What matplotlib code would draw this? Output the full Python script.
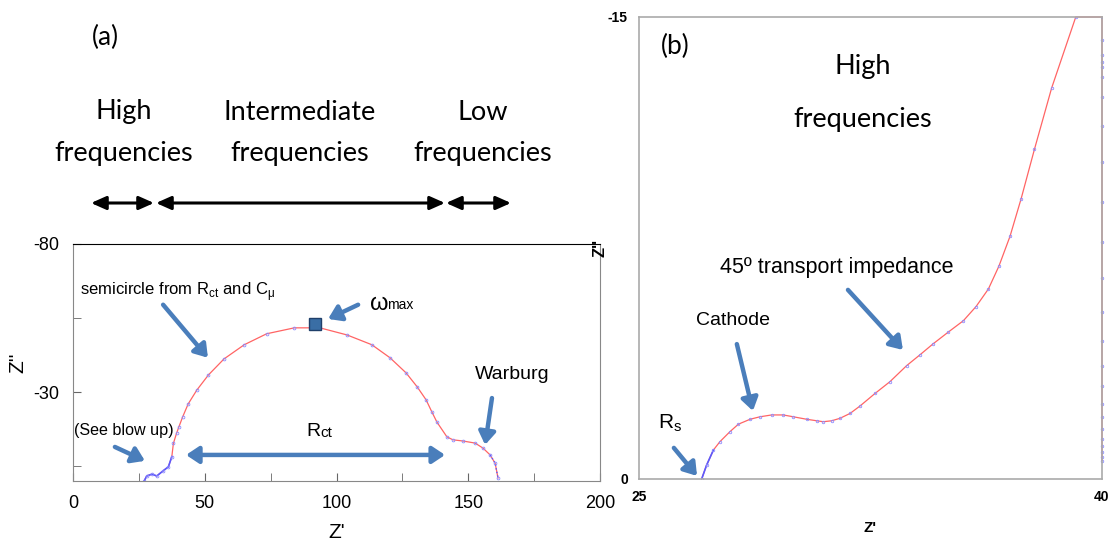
import matplotlib
matplotlib.use("Agg")
import matplotlib.pyplot as plt

plt.rcParams['axes.unicode_minus'] = False

# (a) full spectrum, Z' vs Z''
left_x = [27.0, 28.0, 29.9, 31.8, 34.3, 36.2, 37.5, 38.1, 39.3, 40.2, 41.6, 43.7, 47.0,
          51.4, 57.3, 65.0, 73.5, 84.0, 93.7, 104.0, 113.4, 120.3, 126.4, 130.6, 134.0,
          136.2, 138.1, 141.9, 144.2, 148.0, 152.6, 155.6, 158.3, 160.2, 161.3]
left_y = [0, -1.7, -2.3, -1.7, -3.5, -4.8, -8.2, -12.7, -16.1, -18.3, -21.6, -26.0, -30.7,
          -35.8, -41.2, -46.0, -49.7, -51.7, -51.7, -49.3, -46.0, -41.6, -36.5, -31.8, -27.4,
          -23.3, -19.9, -14.9, -13.9, -13.5, -12.8, -11.1, -8.8, -6.0, -1.0]
w_max = (91.8, -53.0)

# (b) blow up of the high frequency part
right_x = [27.03, 27.19, 27.41, 27.62, 27.95, 28.22, 28.60, 28.92, 29.30, 29.67, 30.00,
           30.43, 30.76, 30.97, 31.24, 31.51, 31.84, 32.16, 32.65, 33.13, 33.67, 34.10,
           34.53, 35.02, 35.51, 35.92, 36.32, 36.66, 37.02, 37.38, 37.81, 38.37, 39.15, 40.0]
right_y = [0, -0.45, -0.94, -1.21, -1.54, -1.78, -1.94, -2.02, -2.08, -2.08, -2.02,
           -1.94, -1.89, -1.86, -1.89, -1.97, -2.13, -2.37, -2.78, -3.16, -3.68, -4.03,
           -4.39, -4.77, -5.14, -5.60, -6.17, -6.91, -7.88, -9.10, -10.70, -12.70, -15.0, -15.0]
# points clipped to the right border
edge_y = [-14.24, -13.78, -13.55, -13.38, -13.04, -12.41, -11.46, -10.28, -8.99, -7.70,
          -6.51, -5.42, -4.48, -3.68, -3.02, -2.45, -2.00, -1.61, -1.31, -1.08, -0.89,
          -0.72, -0.60]

W, H = 1116, 551
RED = '#ff6464'
BLUE = '#5a5aff'
DOT = '#8c8cff'
ARROW = '#4a7ebb'
CAL = ['Lato', 'DejaVu Sans']
HEL = ['Liberation Sans', 'DejaVu Sans']


def px(x, y):
    return x / W, 1 - y / H


fig = plt.figure(figsize=(W / 100, H / 100), dpi=100)

# ---------- (a) ----------
ax = fig.add_axes([73 / W, 1 - 481 / H, 527 / W, 237 / H])
ax.plot(left_x, left_y, color=RED, lw=0.9)
ax.plot(left_x[:7], left_y[:7], color=BLUE, lw=1.2)
ax.plot(left_x[-3:], left_y[-3:], color=BLUE, lw=1.0, ls=':')
ax.plot(left_x, left_y, 'o', ms=2, mfc='none', mec=DOT, mew=0.6)
ax.plot(*w_max, 's', ms=8, color='#3a6ea5', mec='#1f3f6a', mew=1)
ax.set_xlim(0, 200)
ax.set_ylim(0, -80)
ax.set_xticks([0, 50, 100, 150, 200])
ax.set_xticks([25, 75, 125, 175], minor=True)
ax.set_yticks([-80, -30])
ax.set_yticks([-55, -5], minor=True)
ax.tick_params(which='both', direction='in', length=6, color='#666666',
               labelsize=13, pad=10)
for lab in ax.get_xticklabels() + ax.get_yticklabels():
    lab.set_family(HEL)
for s in ['left', 'right', 'bottom']:
    ax.spines[s].set_color('#888888')
ax.spines['top'].set_color('black')
ax.set_xlabel("Z'", fontsize=15, family=HEL, labelpad=8)
ax.set_ylabel("Z''", fontsize=15, family=HEL, labelpad=4)

arr = dict(arrowstyle='-|>,head_length=0.75,head_width=0.5', lw=3.2, color=ARROW,
           shrinkA=0, shrinkB=0)
ax.text(2.7, -63.9, r'semicircle from R$_{\mathregular{ct}}$ and C$_{\mathregular{\mu}}$',
        fontsize=12, family=HEL, va='center')
ax.annotate('', xy=(51.2, -41.6), xytext=(34.2, -59.5), arrowprops=arr)
ax.text(112.3, -59.8, r'$\mathregular{\omega}$', fontsize=17, family=HEL, va='center')
ax.text(119.2, -59.3, 'max', fontsize=10, family=HEL, va='center')
ax.annotate('', xy=(96.8, -54.7), xytext=(108.2, -59.5), arrowprops=arr)
ax.text(166.6, -35.8, 'Warburg', fontsize=14, family=HEL, ha='center', va='center')
ax.annotate('', xy=(156.4, -12.2), xytext=(159.0, -28.0), arrowprops=arr)
ax.text(93.8, -16.6, 'R', fontsize=14, family=HEL, ha='right', va='center')
ax.text(93.8, -16.1, 'ct', fontsize=11, family=HEL, ha='left', va='center')
ax.annotate('', xy=(42.9, -8.8), xytext=(141.2, -8.8),
            arrowprops=dict(arr, arrowstyle='<|-|>,head_length=0.75,head_width=0.5'))
ax.text(0.3, -17.2, '(See blow up)', fontsize=11.6, family=HEL, va='center')
ax.annotate('', xy=(27.3, -6.8), xytext=(15.9, -11.5), arrowprops=arr)

# labels above panel (a)
fig.text(*px(105, 37), '(a)', fontsize=19, family=CAL, ha='center', va='center')
for cx, top, bot in [(124, 'High', 'frequencies'),
                     (300, 'Intermediate', 'frequencies'),
                     (483, 'Low', 'frequencies')]:
    fig.text(*px(cx, 112), top, fontsize=19.5, family=CAL, ha='center', va='center')
    fig.text(*px(cx, 153), bot, fontsize=19.5, family=CAL, ha='center', va='center')
black = dict(arrowstyle='<|-|>,head_length=0.9,head_width=0.4', lw=2.2, color='black',
             shrinkA=0, shrinkB=0)
for x0, x1 in [(91, 154), (156, 445), (446, 511)]:
    ax.annotate('', xy=px(x1, 203), xytext=px(x0, 203), xycoords='figure fraction',
                textcoords='figure fraction', arrowprops=black)

# ---------- (b) ----------
bx = fig.add_axes([639 / W, 1 - 479 / H, 463 / W, 462 / H])
bx.plot(right_x + [40.0] * len(edge_y), right_y + edge_y, color=RED, lw=0.9, clip_on=False)
bx.plot(right_x[:3], right_y[:3], color=BLUE, lw=1.2)
bx.plot(right_x, right_y, 'o', ms=1.8, mfc='none', mec=DOT, mew=0.6)
bx.plot([40.0] * len(edge_y), edge_y, 'o', ms=1.8, mfc='none', mec=DOT, mew=0.6,
        clip_on=False)
bx.set_xlim(25, 40)
bx.set_ylim(0, -15)
bx.set_xticks([25, 40])
bx.set_yticks([-15, 0])
bx.tick_params(length=0, labelsize=10, pad=8)
for lab in bx.get_xticklabels() + bx.get_yticklabels():
    lab.set_fontweight('bold')
    lab.set_family(HEL)
for s in bx.spines.values():
    s.set_color('#aaaaaa')
    s.set_linewidth(1.2)
bx.set_xlabel("Z'", fontsize=11, fontweight='bold', family=HEL, labelpad=12)
bx.set_ylabel("Z''", fontsize=12, fontweight='bold', family=HEL, labelpad=0)

bx.text(26.17, -14.03, '(b)', fontsize=19, family=CAL, ha='center', va='center')
bx.text(32.26, -13.38, 'High', fontsize=19.5, family=CAL, ha='center', va='center')
bx.text(32.26, -11.66, 'frequencies', fontsize=19.5, family=CAL, ha='center', va='center')
bx.text(31.41, -6.88, '45º transport impedance', fontsize=15.5, family=HEL,
        ha='center', va='center')
bx.annotate('', xy=(33.55, -4.19), xytext=(31.77, -6.14), arrowprops=arr)
bx.text(28.05, -5.13, 'Cathode', fontsize=14, family=HEL, ha='center', va='center')
bx.annotate('', xy=(28.69, -2.21), xytext=(28.17, -4.38), arrowprops=arr)
bx.text(26.0, -1.82, r'R$_{\mathregular{s}}$', fontsize=15, family=HEL,
        ha='center', va='center')
bx.annotate('', xy=(26.88, -0.10), xytext=(26.13, -1.01), arrowprops=arr)

plt.savefig('out.png', dpi=100)
plt.close()
